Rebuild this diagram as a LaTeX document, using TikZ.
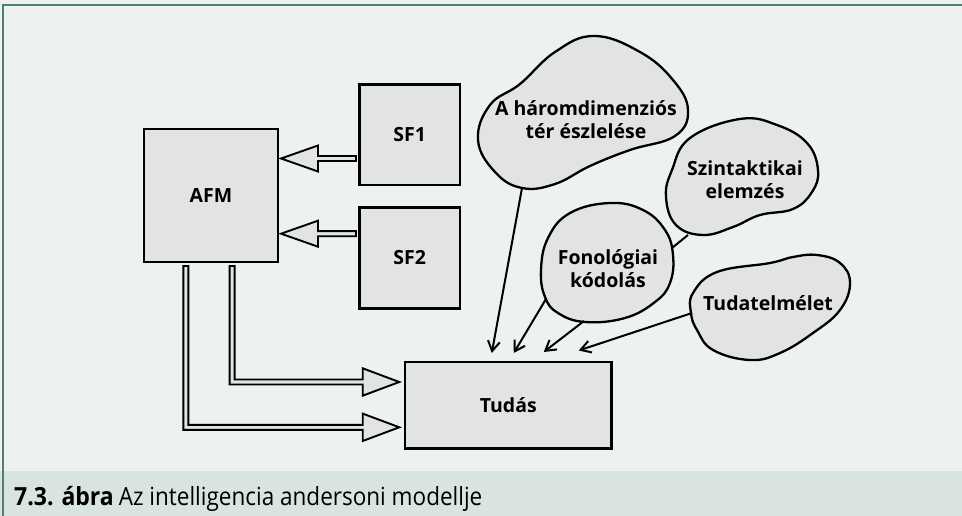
\documentclass[tikz,border=0pt]{standalone}
\usepackage{fontspec}
\setmainfont{Open Sans}
\usetikzlibrary{arrows.meta,calc}
\definecolor{bgc}{HTML}{EDF1F0}
\definecolor{capc}{HTML}{D9E3E0}
\definecolor{framec}{HTML}{4F7F73}
\definecolor{boxc}{HTML}{E2E3E5}
\begin{document}
\begin{tikzpicture}[x=1pt,y=-1pt,
  lbl/.style={font=\bfseries\fontsize{19.5}{23}\selectfont, align=center, inner sep=0pt},
  box/.style={draw=black, line width=2.4pt, fill=boxc, inner sep=0pt},
  blob/.style={draw=black, line width=2.3pt, fill=boxc},
  blk/.style={draw=black, line width=1.9pt, fill=boxc, line join=miter},
  thinarrow/.style={draw=black, line width=2pt, -{Straight Barb[length=10pt,width=12pt,line width=2pt]}},
  link/.style={draw=black, line width=2pt}
]
\useasboundingbox (0,0) rectangle (962,516);
% background and frame
\fill[bgc] (0,0) rectangle (962,516);
\fill[capc] (0,471) rectangle (962,516);
\draw[framec, line width=2.2pt] (2,5) -- (962,5);
\draw[framec, line width=1.2pt] (3,5) -- (3,516);
\node[anchor=base west, inner sep=0pt] (cap) at (14,505.5)
  {\fontsize{25}{29}\selectfont\scalebox{0.92}[1]{\textbf{7.3. ábra}}\hspace{5pt}\scalebox{0.9}[1]{Az intelligencia andersoni modellje}};

% boxes
\node[box, minimum width=134pt, minimum height=133pt] (afm) at (211,195.5) {};
\node[lbl] at (afm.center) {AFM};
\node[box, minimum width=100.7pt, minimum height=100.7pt] (sf1) at (409.7,134.7) {};
\node[lbl] at (sf1.center) {SF1};
\node[box, minimum width=100.7pt, minimum height=100.7pt] (sf2) at (409.7,258) {};
\node[lbl] at (sf2.center) {SF2};
\node[box, minimum width=206.7pt, minimum height=86.6pt] (tudas) at (508.3,405) {};
\node[lbl] at (tudas.center) {Tudás};

% block arrows SF -> AFM
\draw[blk] (281,158.5) -- (318,145.5) -- (318,156) -- (356,156) -- (356,161) -- (318,161) -- (318,171.5) -- cycle;
\draw[blk] (281,233.7) -- (318,220.7) -- (318,231.2) -- (356,231.2) -- (356,236.2) -- (318,236.2) -- (318,246.7) -- cycle;

% L-shaped block arrows AFM -> Tudas
\draw[blk] (183.3,266) -- (183.3,429.8) -- (362.7,429.8) -- (362.7,441) -- (399.3,427.3) -- (362.7,413.6) -- (362.7,424.8) -- (188.3,424.8) -- (188.3,266) -- cycle;
\draw[blk] (229.6,266) -- (229.6,384.5) -- (362.7,384.5) -- (362.7,395.7) -- (399.3,382) -- (362.7,368.3) -- (362.7,379.5) -- (234.6,379.5) -- (234.6,266) -- cycle;

% blobs
\draw[blob] plot[smooth cycle, tension=0.7] coordinates {(594,36) (640,52) (673,80) (688,110) (675,136) (630,150) (590,166) (555,184) (522,188) (495,172) (478,140) (490,105) (520,84) (555,52)};
\node[lbl] (b1) at (586,120) {A háromdimenziós\\tér észlelése};

\draw[blob] plot[smooth cycle, tension=0.7] coordinates {(740,119) (777,125) (807,143) (818,170) (812,192) (793,209) (760,215) (733,227) (703,235) (676,225) (666,197) (672,170) (690,138)};
\node[lbl] (b2) at (745,180) {Szintaktikai\\elemzés};

\draw[blob] plot[smooth cycle, tension=0.7] coordinates {(610,203) (643,210) (665,230) (673,255) (670,283) (655,302) (625,318) (585,322) (558,313) (545,297) (541,270) (548,238) (570,213)};
\node[lbl] (b3) at (608,269) {Fonológiai\\kódolás};

\draw[blob] plot[smooth cycle, tension=0.7] coordinates {(691,313) (693,293) (717,272) (770,263) (793,257) (817,255) (840,263) (850,283) (840,310) (813,333) (780,353) (750,360) (713,350) (697,330)};
\node[lbl] (b4) at (768,303) {Tudatelmélet};

% connectors
\coordinate (s1) at (522,188);
\coordinate (s2) at (546,299);
\coordinate (s3) at (584,321);
\coordinate (s4) at (692,313);
\coordinate (t1) at ($(tudas.north west)+(88,-7.5)$);
\coordinate (t2) at ($(tudas.north west)+(110,-7.5)$);
\coordinate (t3) at ($(tudas.north west)+(140,-8.5)$);
\coordinate (t4) at ($(tudas.north west)+(175,-10)$);
\draw[thinarrow] (s1) -- (t1);
\draw[thinarrow] (s2) -- (t2);
\draw[thinarrow] (s3) -- (t3);
\draw[thinarrow] (s4) -- (t4);
\coordinate (l1) at (672,248);
\coordinate (l2) at (688,235);
\draw[link] (l1) -- (l2);
\end{tikzpicture}
\end{document}
